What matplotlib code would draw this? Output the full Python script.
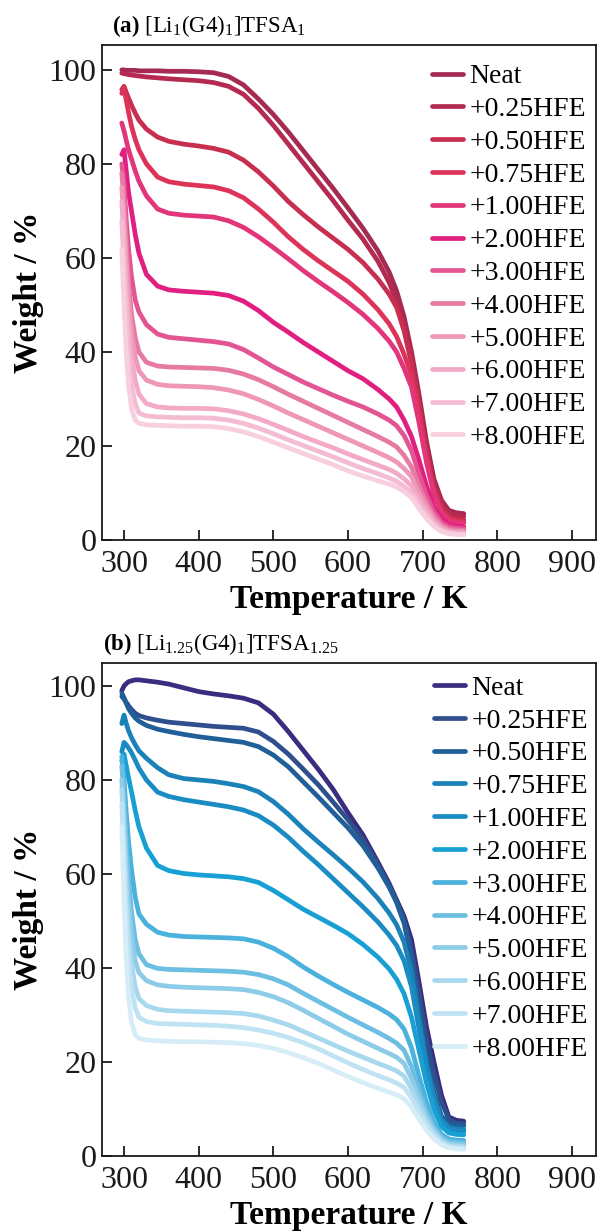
import matplotlib
matplotlib.use('Agg')
import matplotlib.pyplot as plt

plt.rcParams['font.family'] = ['Liberation Serif', 'DejaVu Serif']
plt.rcParams['mathtext.fontset'] = 'custom'
plt.rcParams['mathtext.rm'] = 'Liberation Serif'
plt.rcParams['mathtext.it'] = 'Liberation Serif:italic'
plt.rcParams['mathtext.bf'] = 'Liberation Serif:bold'

# ---------------- data ----------------
temps = [297, 300, 303, 306, 310, 315, 320, 330, 345, 360, 380, 400, 420, 440, 460,
         480, 500, 520, 540, 560, 580, 600, 620, 640, 655, 665, 675, 685, 695, 705,
         715, 725, 735, 745, 755]

labels = ['Neat', '+0.25HFE', '+0.50HFE', '+0.75HFE', '+1.00HFE', '+2.00HFE',
          '+3.00HFE', '+4.00HFE', '+5.00HFE', '+6.00HFE', '+7.00HFE', '+8.00HFE']

# panel (a) [Li1(G4)1]TFSA1
neat_a = [100.0, 100.0, 99.9, 99.9, 99.9, 99.9, 99.8, 99.8, 99.8, 99.7, 99.7, 99.6, 99.4, 98.6, 96.8,
          93.8, 90.5, 86.8, 82.8, 78.8, 74.8, 70.6, 66.3, 61.5, 57.0, 53.0, 47.5, 40.0, 31.0, 21.0,
          13.0, 8.5, 6.3, 5.8, 5.6]
hfe025_a = [99.3, 99.2, 99.1, 99.0, 98.9, 98.8, 98.7, 98.5, 98.3, 98.1, 97.9, 97.7, 97.3, 96.5, 94.8,
            91.8, 88.2, 84.2, 80.2, 76.2, 72.2, 68.0, 64.0, 59.3, 54.8, 50.8, 45.5, 38.5, 29.5, 19.5,
            12.0, 7.8, 5.7, 5.2, 5.0]
hfe050_a = [95.8, 96.5, 95.2, 94.0, 92.5, 90.8, 89.3, 87.4, 85.7, 84.8, 84.2, 83.8, 83.3, 82.5, 80.8,
            78.3, 75.3, 72.0, 69.2, 66.6, 64.2, 61.8, 59.0, 55.5, 52.3, 49.5, 44.5, 37.5, 28.5, 18.5,
            11.0, 7.0, 5.0, 4.5, 4.3]
hfe075_a = [95.0, 96.0, 93.5, 91.0, 88.0, 85.2, 83.0, 80.0, 77.2, 76.2, 75.7, 75.4, 75.1, 74.3, 72.8,
            70.4, 67.6, 64.5, 61.8, 59.4, 57.2, 55.0, 52.3, 49.0, 46.0, 43.3, 39.5, 35.0, 27.0, 17.5,
            10.3, 6.3, 4.5, 4.0, 3.9]
hfe100_a = [88.7, 87.0, 85.0, 83.0, 81.0, 78.5, 76.3, 73.2, 70.4, 69.5, 69.1, 68.9, 68.7, 67.9, 66.5,
            64.5, 62.2, 59.8, 57.3, 55.0, 52.8, 50.5, 48.0, 45.0, 42.3, 40.0, 36.5, 32.5, 25.0, 16.5,
            9.6, 5.8, 4.1, 3.7, 3.6]
hfe200_a = [82.0, 83.0, 78.5, 74.0, 70.0, 65.0, 61.0, 56.5, 54.0, 53.2, 52.9, 52.7, 52.5, 52.0, 50.8,
            48.8, 46.3, 44.2, 42.0, 40.0, 38.0, 36.0, 34.3, 32.0, 30.0, 28.3, 25.5, 22.0, 17.0, 11.5,
            7.0, 4.5, 3.2, 2.9, 2.8]
hfe300_a = [80.0, 76.0, 68.0, 62.0, 56.0, 51.0, 48.5, 45.8, 43.8, 43.1, 42.8, 42.5, 42.2, 41.7, 40.5,
            38.7, 36.8, 35.2, 33.6, 32.2, 30.8, 29.5, 28.3, 26.8, 25.5, 24.3, 22.2, 19.0, 14.0, 9.5,
            6.0, 3.8, 2.8, 2.5, 2.4]
hfe400_a = [78.0, 72.0, 63.0, 55.0, 48.0, 43.0, 40.0, 37.8, 37.0, 36.8, 36.7, 36.6, 36.5, 36.1, 35.3,
            34.1, 32.6, 31.0, 29.5, 28.0, 26.5, 25.0, 23.5, 22.0, 20.8, 19.8, 18.0, 15.5, 11.5, 8.0,
            5.0, 3.2, 2.3, 2.1, 2.0]
hfe500_a = [75.0, 68.0, 59.0, 51.0, 44.0, 39.0, 36.0, 34.0, 33.1, 32.8, 32.7, 32.6, 32.4, 31.9, 31.1,
            29.9, 28.5, 27.0, 25.6, 24.2, 22.8, 21.4, 20.0, 18.6, 17.5, 16.6, 15.2, 13.5, 10.0, 7.0,
            4.4, 2.8, 2.0, 1.8, 1.8]
hfe600_a = [72.0, 64.0, 54.0, 46.0, 39.0, 34.0, 31.0, 29.0, 28.3, 28.1, 28.0, 28.0, 27.9, 27.5, 26.8,
            25.8, 24.6, 23.3, 22.0, 20.8, 19.6, 18.3, 17.1, 15.9, 15.0, 14.2, 13.0, 11.5, 8.6, 6.0,
            3.8, 2.4, 1.7, 1.5, 1.5]
hfe700_a = [68.0, 58.0, 48.0, 40.0, 33.0, 29.0, 27.0, 26.4, 26.2, 26.1, 26.0, 26.0, 25.9, 25.5, 24.8,
            23.8, 22.6, 21.3, 20.1, 18.9, 17.7, 16.4, 15.2, 14.1, 13.2, 12.5, 11.4, 10.0, 7.5, 5.3,
            3.3, 2.1, 1.5, 1.3, 1.3]
hfe800_a = [62.0, 50.0, 40.0, 33.0, 28.0, 25.5, 24.8, 24.5, 24.4, 24.3, 24.2, 24.2, 24.1, 23.7, 23.0,
            22.0, 20.8, 19.6, 18.4, 17.2, 16.0, 14.7, 13.6, 12.6, 11.9, 11.3, 10.3, 9.0, 6.7, 4.6,
            2.9, 1.8, 1.3, 1.2, 1.1]

# panel (b) [Li1.25(G4)1]TFSA1.25
neat_b = [99.0, 100.0, 100.5, 100.9, 101.1, 101.3, 101.3, 101.1, 100.8, 100.4, 99.6, 98.8, 98.3, 97.9, 97.4,
          96.4, 94.0, 90.3, 86.3, 82.3, 78.0, 73.0, 68.3, 62.5, 58.0, 54.5, 51.0, 46.0, 37.0, 27.5,
          20.0, 13.0, 8.3, 7.6, 7.4]
hfe025_b = [97.8, 97.2, 96.5, 95.8, 95.0, 94.2, 93.7, 93.2, 92.7, 92.3, 92.0, 91.7, 91.4, 91.2, 91.0,
            90.2, 88.2, 85.5, 82.3, 79.0, 75.3, 71.5, 67.3, 62.0, 57.5, 54.0, 50.0, 44.0, 34.5, 25.0,
            17.5, 11.5, 7.8, 7.0, 6.9]
hfe050_b = [98.5, 97.5, 96.3, 95.2, 94.2, 93.2, 92.5, 91.6, 90.8, 90.3, 89.7, 89.2, 88.8, 88.4, 88.0,
            87.1, 85.3, 82.8, 79.6, 76.4, 73.1, 69.8, 66.0, 61.3, 57.2, 54.0, 49.5, 42.0, 31.0, 21.0,
            13.5, 8.5, 6.8, 6.5, 6.4]
hfe075_b = [92.0, 93.8, 92.0, 90.5, 89.0, 87.5, 86.2, 84.6, 82.6, 81.1, 80.3, 80.0, 79.7, 79.2, 78.6,
            77.5, 75.4, 72.7, 69.6, 66.8, 64.1, 61.3, 58.3, 54.8, 51.7, 49.2, 45.5, 39.0, 29.0, 19.5,
            12.5, 7.8, 6.1, 5.8, 5.7]
hfe100_b = [86.0, 88.0, 87.5, 86.8, 85.8, 84.2, 82.5, 80.0, 77.4, 76.5, 75.8, 75.3, 74.8, 74.3, 73.6,
            72.4, 70.4, 67.8, 64.8, 62.0, 59.0, 56.0, 53.0, 49.8, 47.0, 44.8, 41.5, 36.0, 27.0, 18.5,
            12.0, 7.4, 5.6, 5.3, 5.2]
hfe200_b = [84.0, 85.5, 83.0, 80.5, 77.5, 73.5, 70.0, 65.5, 61.8, 60.7, 60.1, 59.8, 59.6, 59.4, 59.0,
            58.2, 56.5, 54.5, 52.5, 50.8, 49.1, 47.3, 45.0, 42.3, 39.8, 37.6, 34.5, 29.5, 22.5, 15.5,
            10.0, 6.3, 4.9, 4.6, 4.5]
hfe300_b = [85.0, 80.0, 73.0, 67.0, 61.0, 55.0, 51.5, 49.3, 47.6, 47.0, 46.7, 46.6, 46.5, 46.4, 46.2,
            45.5, 44.2, 42.4, 40.2, 38.3, 36.5, 34.8, 33.2, 31.6, 30.2, 29.0, 27.0, 23.0, 17.0, 11.5,
            7.3, 4.6, 3.6, 3.4, 3.3]
hfe400_b = [83.0, 76.0, 67.0, 59.0, 52.0, 46.0, 43.0, 40.7, 39.9, 39.7, 39.6, 39.5, 39.4, 39.3, 39.1,
            38.6, 37.7, 36.4, 34.6, 32.9, 31.2, 29.5, 27.9, 26.3, 25.0, 24.0, 22.5, 19.0, 14.0, 9.5,
            6.2, 4.0, 3.1, 2.9, 2.8]
hfe500_b = [80.0, 72.0, 62.0, 54.0, 47.0, 41.5, 39.0, 37.3, 36.4, 36.1, 35.9, 35.8, 35.7, 35.6, 35.4,
            34.8, 33.9, 32.6, 31.0, 29.3, 27.6, 25.9, 24.4, 22.9, 21.8, 21.0, 19.7, 16.5, 12.3, 8.4,
            5.5, 3.6, 2.7, 2.5, 2.4]
hfe600_b = [78.0, 68.0, 57.0, 48.0, 41.0, 36.0, 33.5, 32.0, 31.2, 30.9, 30.8, 30.7, 30.6, 30.5, 30.3,
            29.8, 28.9, 27.9, 26.5, 25.1, 23.7, 22.3, 21.0, 19.7, 18.8, 18.1, 17.0, 14.3, 10.8, 7.4,
            4.9, 3.2, 2.3, 2.1, 2.0]
hfe700_b = [75.0, 63.0, 51.0, 42.0, 36.0, 31.5, 29.5, 28.6, 28.2, 28.1, 28.0, 27.9, 27.8, 27.6, 27.3,
            26.8, 26.1, 25.2, 24.1, 22.8, 21.3, 19.8, 18.4, 17.1, 16.2, 15.5, 14.6, 12.4, 9.4, 6.5,
            4.3, 2.8, 2.0, 1.8, 1.7]
hfe800_b = [70.0, 55.0, 42.0, 34.0, 28.5, 25.8, 25.0, 24.7, 24.5, 24.4, 24.3, 24.3, 24.2, 24.1, 23.9,
            23.5, 22.9, 22.0, 20.9, 19.7, 18.3, 16.9, 15.6, 14.4, 13.6, 13.0, 12.2, 10.4, 7.9, 5.5,
            3.7, 2.4, 1.7, 1.5, 1.4]

series_a = [neat_a, hfe025_a, hfe050_a, hfe075_a, hfe100_a, hfe200_a,
            hfe300_a, hfe400_a, hfe500_a, hfe600_a, hfe700_a, hfe800_a]
series_b = [neat_b, hfe025_b, hfe050_b, hfe075_b, hfe100_b, hfe200_b,
            hfe300_b, hfe400_b, hfe500_b, hfe600_b, hfe700_b, hfe800_b]

colors_a = ['#A52B53', '#B42A50', '#C82E50', '#DE3358', '#E2357A', '#E01F80',
            '#E35592', '#E77AA2', '#EE97B7', '#F2AAC6', '#F4BCD2', '#F7CFDE']
colors_b = ['#3A2C7E', '#2F4E8C', '#205F98', '#1A82B8', '#1B8CC3', '#18A0D5',
            '#4AB2DC', '#6CBFE2', '#8DCCE8', '#A8D8EE', '#C0E3F3', '#D6EDF8']

titles = [r'$\mathbf{(a)}$ [Li$_{1}$(G4)$_{1}$]TFSA$_{1}$',
          r'$\mathbf{(b)}$ [Li$_{1.25}$(G4)$_{1}$]TFSA$_{1.25}$']

# ---------------- figure ----------------
fig = plt.figure(figsize=(6, 12.32), dpi=100)
ax_a = fig.add_axes([0.17, 0.5617, 0.8233, 0.4018])
ax_b = fig.add_axes([0.17, 0.0617, 0.8233, 0.4002])

setups = [
    (ax_a, series_a, colors_a, 105.3, (0.98, 0.962), (0.187, 0.974), titles[0]),
    (ax_b, series_b, colors_b, 104.9, (0.984, 0.975), (0.172, 0.4724), titles[1]),
]

for ax, series, colors, ytop, lg_anchor, tpos, title in setups:
    for w, lab, c in zip(series, labels, colors):
        ax.plot(temps, w, color=c, lw=3.4, label=lab,
                solid_joinstyle='round', solid_capstyle='round')
    ax.set_xlim(270.5, 932)
    ax.set_ylim(0, ytop)
    ax.set_xticks([300, 400, 500, 600, 700, 800, 900])
    ax.set_yticks([0, 20, 40, 60, 80, 100])
    ax.tick_params(axis='both', direction='in', length=7, width=1.3, labelsize=23,
                   colors='#1a1a1a')
    ax.tick_params(axis='x', pad=7)
    ax.tick_params(axis='y', pad=4)
    for s in ax.spines.values():
        s.set_linewidth(1.3)
        s.set_color('#1a1a1a')
    ax.set_xlabel('Temperature / K', fontsize=24, fontweight='bold', labelpad=4)
    ax.set_ylabel('Weight / %', fontsize=24, fontweight='bold', labelpad=3)
    ax.legend(loc='upper right', bbox_to_anchor=lg_anchor, frameon=False,
              fontsize=20, handlelength=1.1, handletextpad=0.25,
              labelspacing=0.265, borderaxespad=0, borderpad=0)
    fig.text(tpos[0], tpos[1], title, fontsize=16.5, va='baseline', ha='left')

fig.savefig('out.png', dpi=100)
